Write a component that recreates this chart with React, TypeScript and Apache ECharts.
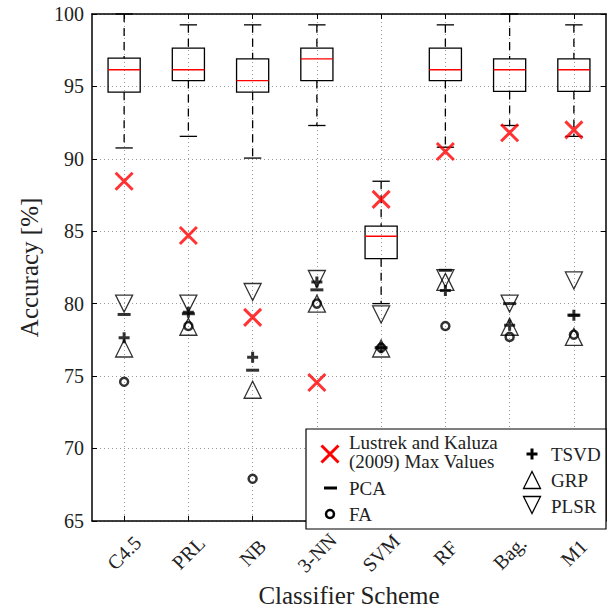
import React, { useEffect, useRef } from 'react';
import * as echarts from 'echarts';

const categories = ['C4.5', 'PRL', 'NB', '3-NN', 'SVM', 'RF', 'Bag.', 'M1'];

// Box plot statistics (whisker low, Q1, median, Q3, whisker high)
const whiskerLow = [90.75, 91.55, 90.05, 92.3, 80.0, 90.8, 92.3, 91.55];
const quartile1 = [94.6, 95.4, 94.6, 95.4, 83.1, 95.4, 94.65, 94.65];
const medians = [96.15, 96.15, 95.4, 96.9, 84.65, 96.15, 96.15, 96.15];
const quartile3 = [96.95, 97.65, 96.9, 97.65, 85.35, 97.65, 96.9, 96.9];
const whiskerHigh = [100, 99.25, 99.25, 99.25, 88.45, 99.25, 100, 99.25];

// Scatter series
const lustrekKaluza = [88.45, 84.7, 79.05, 74.55, 87.2, 90.5, 91.8, 92.0];
const pcaValues = [79.25, 79.3, 75.4, 80.95, 76.95, 82.3, 80.0, 79.2];
const faValues = [74.6, 78.45, 67.9, 80.0, 76.95, 78.45, 77.7, 77.85];
const tsvdValues = [77.65, 79.4, 76.3, 81.5, 76.95, 80.9, 78.5, 79.2];
const grpValues = [76.9, 78.4, 74.05, 80.0, 76.9, 81.5, 78.4, 77.7];
const plsrValues = [80.0, 80.0, 80.8, 81.7, 79.25, 81.75, 80.0, 81.6];

const yTicks = ['65', '70', '75', '80', '85', '90', '95', '100'];

const FONT = 'Liberation Serif';
const TEXT = '#222222';
const GRID_LEFT = 92;
const GRID_TOP = 14;
const GRID_RIGHT = 10;
const GRID_BOTTOM = 84;

export default function App() {
  const ref = useRef<HTMLDivElement>(null);
  useEffect(() => {
    const chart = echarts.init(ref.current!, null, { renderer: 'svg' });

    const boxData = categories.map((_, i) => [
      i,
      whiskerLow[i],
      quartile1[i],
      medians[i],
      quartile3[i],
      whiskerHigh[i],
    ]);

    const gridLine = { show: true, lineStyle: { color: '#9a9a9a', type: [1, 3], width: 1 } };

    const pts = (arr: number[]) => arr.map((v, i) => [i, v]);

    const black = '#000000';
    const red = '#ff0000';

    // legend layout
    const lx = 306, ly = 429, lw = 300, lh = 100;
    const tStyle = (text: string, x: number, y: number) => ({
      type: 'text',
      x,
      y,
      style: {
        text,
        fontFamily: FONT,
        fontSize: 19,
        fill: TEXT,
        verticalAlign: 'middle',
        align: 'left',
      },
      z: 101,
    });
    const ln = (x1: number, y1: number, x2: number, y2: number, color: string, w: number) => ({
      type: 'line',
      shape: { x1, y1, x2, y2 },
      style: { stroke: color, lineWidth: w },
      z: 101,
    });
    const tri = (cx: number, cy: number, up: boolean) => {
      const h = 8.5;
      const pts2 = up
        ? [[cx, cy - h], [cx - h, cy + h], [cx + h, cy + h]]
        : [[cx, cy + h], [cx - h, cy - h], [cx + h, cy - h]];
      return {
        type: 'polygon',
        shape: { points: pts2 },
        style: { fill: 'none', stroke: black, lineWidth: 1.3 },
        z: 101,
      };
    };

    const legendGraphics: any[] = [
      {
        type: 'rect',
        shape: { x: lx, y: ly, width: lw, height: lh },
        style: { fill: '#ffffff', stroke: black, lineWidth: 1.2 },
        z: 100,
      },
      ln(330 - 8.5, 454 - 8.5, 330 + 8.5, 454 + 8.5, red, 3),
      ln(330 + 8.5, 454 - 8.5, 330 - 8.5, 454 + 8.5, red, 3),
      tStyle('Lustrek and Kaluza', 349, 442),
      tStyle('(2009) Max Values', 349, 461),
      {
        type: 'rect',
        shape: { x: 324, y: 486.5, width: 13, height: 3 },
        style: { fill: black },
        z: 101,
      },
      tStyle('PCA', 349, 488),
      {
        type: 'circle',
        shape: { cx: 330, cy: 514, r: 4 },
        style: { fill: 'none', stroke: black, lineWidth: 2.5 },
        z: 101,
      },
      tStyle('FA', 349, 514),
      ln(532 - 5.5, 454, 532 + 5.5, 454, black, 3),
      ln(532, 454 - 5.5, 532, 454 + 5.5, black, 3),
      tStyle('TSVD', 551, 454),
      tri(532, 480, true),
      tStyle('GRP', 551, 480),
      tri(532, 505, false),
      tStyle('PLSR', 551, 506),
    ];

    const option: any = {
      animation: false,
      backgroundColor: '#ffffff',
      grid: { left: GRID_LEFT, top: GRID_TOP, right: GRID_RIGHT, bottom: GRID_BOTTOM, containLabel: false },
      xAxis: [
        {
          type: 'category',
          data: categories,
          boundaryGap: true,
          position: 'bottom',
          name: 'Classifier Scheme',
          nameLocation: 'middle',
          nameGap: 61,
          nameTextStyle: { fontFamily: FONT, fontSize: 25, color: TEXT },
          axisLine: { show: true, lineStyle: { color: black, width: 1.5 } },
          axisTick: { show: true, inside: true, alignWithLabel: true, length: 5, lineStyle: { color: black } },
          axisLabel: {
            rotate: 45,
            align: 'center',
            verticalAlign: 'middle',
            margin: 32,
            fontFamily: FONT,
            fontSize: 20,
            color: TEXT,
          },
          splitLine: { ...gridLine, alignWithLabel: true },
        },
        {
          type: 'category',
          data: categories,
          boundaryGap: true,
          position: 'top',
          axisLine: { show: true, lineStyle: { color: black, width: 1.5 } },
          axisTick: { show: true, inside: true, alignWithLabel: true, length: 5, lineStyle: { color: black } },
          axisLabel: { show: false },
          splitLine: { show: false },
        },
      ],
      yAxis: [
        {
          type: 'value',
          min: 65,
          max: 100,
          interval: 5,
          position: 'left',
          name: 'Accuracy [%]',
          nameLocation: 'middle',
          nameGap: 50,
          nameRotate: 90,
          nameTextStyle: { fontFamily: FONT, fontSize: 25, color: TEXT },
          axisLine: { show: true, lineStyle: { color: black, width: 1.5 } },
          axisTick: { show: true, inside: true, length: 5, lineStyle: { color: black } },
          axisLabel: {
            fontFamily: FONT,
            fontSize: 20,
            color: TEXT,
            margin: 8,
            formatter: (v: number) => yTicks[Math.round((v - 65) / 5)] ?? String(v),
          },
          splitLine: gridLine,
        },
        {
          type: 'value',
          min: 65,
          max: 100,
          interval: 5,
          position: 'right',
          axisLine: { show: true, lineStyle: { color: black, width: 1.5 } },
          axisTick: { show: true, inside: true, length: 5, lineStyle: { color: black } },
          axisLabel: { show: false },
          splitLine: { show: false },
        },
      ],
      series: [
        {
          type: 'custom',
          name: 'box',
          silent: true,
          data: boxData,
          encode: { x: 0, y: [1, 2, 3, 4, 5] },
          z: 2,
          renderItem: (params: any, api: any) => {
            const i = api.value(0);
            const lo = api.coord([i, api.value(1)]);
            const q1 = api.coord([i, api.value(2)]);
            const md = api.coord([i, api.value(3)]);
            const q3 = api.coord([i, api.value(4)]);
            const hi = api.coord([i, api.value(5)]);
            const band = api.size([1, 0])[0];
            const bw = band * 0.5;
            const cw = band * 0.27;
            const x = lo[0];
            const solid = { stroke: black, lineWidth: 1.3 };
            const dashed = { stroke: black, lineWidth: 1.3, lineDash: [8, 6] };
            return {
              type: 'group',
              children: [
                { type: 'line', shape: { x1: x, y1: hi[1], x2: x, y2: q3[1] }, style: dashed },
                { type: 'line', shape: { x1: x, y1: q1[1], x2: x, y2: lo[1] }, style: dashed },
                { type: 'line', shape: { x1: x - cw / 2, y1: hi[1], x2: x + cw / 2, y2: hi[1] }, style: solid },
                { type: 'line', shape: { x1: x - cw / 2, y1: lo[1], x2: x + cw / 2, y2: lo[1] }, style: solid },
                {
                  type: 'rect',
                  shape: { x: x - bw / 2, y: q3[1], width: bw, height: q1[1] - q3[1] },
                  style: { fill: 'none', stroke: black, lineWidth: 1.3 },
                },
                { type: 'line', shape: { x1: x - bw / 2, y1: md[1], x2: x + bw / 2, y2: md[1] }, style: { stroke: red, lineWidth: 1.3 } },
              ],
            };
          },
        },
        {
          type: 'scatter',
          name: 'Lustrek and Kaluza (2009) Max Values',
          silent: true,
          data: pts(lustrekKaluza),
          symbol: 'path://M0,0L10,10M10,0L0,10',
          symbolSize: 17,
          itemStyle: { color: 'rgba(0,0,0,0)', borderColor: red, borderWidth: 3 },
          z: 3,
        },
        {
          type: 'scatter',
          name: 'PCA',
          silent: true,
          data: pts(pcaValues),
          symbol: 'rect',
          symbolSize: [13, 3],
          itemStyle: { color: black },
          z: 3,
        },
        {
          type: 'scatter',
          name: 'FA',
          silent: true,
          data: pts(faValues),
          symbol: 'circle',
          symbolSize: 8,
          itemStyle: { color: 'rgba(0,0,0,0)', borderColor: black, borderWidth: 2.5 },
          z: 3,
        },
        {
          type: 'scatter',
          name: 'TSVD',
          silent: true,
          data: pts(tsvdValues),
          symbol: 'path://M5,0L5,10M0,5L10,5',
          symbolSize: 11,
          itemStyle: { color: 'rgba(0,0,0,0)', borderColor: black, borderWidth: 3 },
          z: 3,
        },
        {
          type: 'scatter',
          name: 'GRP',
          silent: true,
          data: pts(grpValues),
          symbol: 'triangle',
          symbolSize: [17, 17],
          itemStyle: { color: 'rgba(0,0,0,0)', borderColor: black, borderWidth: 1.3 },
          z: 3,
        },
        {
          type: 'scatter',
          name: 'PLSR',
          silent: true,
          data: pts(plsrValues),
          symbol: 'triangle',
          symbolRotate: 180,
          symbolSize: [17, 17],
          itemStyle: { color: 'rgba(0,0,0,0)', borderColor: black, borderWidth: 1.3 },
          z: 3,
        },
      ],
      graphic: legendGraphics,
    };

    chart.setOption(option);
    return () => chart.dispose();
  }, []);

  return (
    <div
      ref={ref}
      style={{ position: 'fixed', left: 0, top: 0, width: 616, height: 613, background: '#fff' }}
    />
  );
}
